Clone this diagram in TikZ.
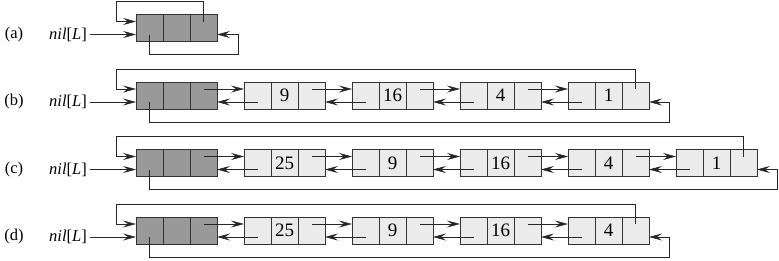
\documentclass[tikz,border=0pt]{standalone}
\usepackage{fontspec}
\setmainfont{Liberation Serif}
\usetikzlibrary{positioning,arrows.meta}

\begin{document}
\begin{tikzpicture}[
  x=1pt, y=-1pt,
  font=\fontsize{16.5}{19}\selectfont,
  cellbox/.style={draw=black!80, line width=0.6pt, minimum width=81pt, minimum height=27pt,
    inner sep=0pt, outer sep=0pt, font=\fontsize{19}{21}\selectfont,
    path picture={
      \draw[black!80, line width=0.6pt]
        ([xshift=-13.5pt]path picture bounding box.north) -- ([xshift=-13.5pt]path picture bounding box.south)
        ([xshift=13.5pt]path picture bounding box.north) -- ([xshift=13.5pt]path picture bounding box.south);}},
  sent/.style={cellbox, fill=black!40},
  elem/.style={cellbox, fill=black!8},
  arr/.style={-{Stealth[length=13pt, width=7pt, inset=5pt]}, line width=0.6pt, black!85},
  lbl/.style={anchor=center},
]
\useasboundingbox (0,0) rectangle (779,260);

% (a) empty list
\node[lbl] (la) at (14,34.5) {(a)};
\node[lbl] (nila) at (68,34.5) {\itshape nil\upshape[\itshape L\upshape]};
\node[sent] (a0) at (176.5,28) {};
\draw[arr] (nila.east) -- (a0.west |- nila.east);
\draw[arr] ([xshift=27pt,yshift=6.5pt]a0.center) |- ([xshift=-20pt,yshift=13pt]a0.north west)
  |- ([yshift=6.5pt]a0.west);
\draw[arr] ([xshift=-27pt,yshift=-6.5pt]a0.center) |- ([xshift=21pt,yshift=-13pt]a0.south east)
  |- ([yshift=-6.5pt]a0.east);

% (b) list 9, 16, 4, 1
\node[lbl] (lb) at (14,102) {(b)};
\node[lbl] (nilb) at (68,102) {\itshape nil\upshape[\itshape L\upshape]};
\node[sent] (b0) at (176.5,95.5) {};
\node[elem, right=27pt of b0] (b1) {9};
\node[elem, right=27pt of b1] (b2) {16};
\node[elem, right=27pt of b2] (b3) {4};
\node[elem, right=27pt of b3] (b4) {1};
\draw[arr] (nilb.east) -- (b0.west |- nilb.east);
\draw[arr] ([xshift=27pt,yshift=6.5pt]b0.center) -- ([yshift=6.5pt]b1.west);
\draw[arr] ([xshift=-27pt,yshift=-6.5pt]b1.center) -- ([yshift=-6.5pt]b0.east);
\draw[arr] ([xshift=27pt,yshift=6.5pt]b1.center) -- ([yshift=6.5pt]b2.west);
\draw[arr] ([xshift=-27pt,yshift=-6.5pt]b2.center) -- ([yshift=-6.5pt]b1.east);
\draw[arr] ([xshift=27pt,yshift=6.5pt]b2.center) -- ([yshift=6.5pt]b3.west);
\draw[arr] ([xshift=-27pt,yshift=-6.5pt]b3.center) -- ([yshift=-6.5pt]b2.east);
\draw[arr] ([xshift=27pt,yshift=6.5pt]b3.center) -- ([yshift=6.5pt]b4.west);
\draw[arr] ([xshift=-27pt,yshift=-6.5pt]b4.center) -- ([yshift=-6.5pt]b3.east);
\draw[arr] ([xshift=27pt,yshift=6.5pt]b4.center) |- ([xshift=-20pt,yshift=13pt]b0.north west)
  |- ([yshift=6.5pt]b0.west);
\draw[arr] ([xshift=-27pt,yshift=-6.5pt]b0.center) |- ([xshift=20pt,yshift=-13pt]b4.south east)
  |- ([yshift=-6.5pt]b4.east);

% (c) after inserting 25
\node[lbl] (lc) at (14,169.5) {(c)};
\node[lbl] (nilc) at (68,169.5) {\itshape nil\upshape[\itshape L\upshape]};
\node[sent] (c0) at (176.5,163) {};
\node[elem, right=27pt of c0] (c1) {25};
\node[elem, right=27pt of c1] (c2) {9};
\node[elem, right=27pt of c2] (c3) {16};
\node[elem, right=27pt of c3] (c4) {4};
\node[elem, right=27pt of c4] (c5) {1};
\draw[arr] (nilc.east) -- (c0.west |- nilc.east);
\draw[arr] ([xshift=27pt,yshift=6.5pt]c0.center) -- ([yshift=6.5pt]c1.west);
\draw[arr] ([xshift=-27pt,yshift=-6.5pt]c1.center) -- ([yshift=-6.5pt]c0.east);
\draw[arr] ([xshift=27pt,yshift=6.5pt]c1.center) -- ([yshift=6.5pt]c2.west);
\draw[arr] ([xshift=-27pt,yshift=-6.5pt]c2.center) -- ([yshift=-6.5pt]c1.east);
\draw[arr] ([xshift=27pt,yshift=6.5pt]c2.center) -- ([yshift=6.5pt]c3.west);
\draw[arr] ([xshift=-27pt,yshift=-6.5pt]c3.center) -- ([yshift=-6.5pt]c2.east);
\draw[arr] ([xshift=27pt,yshift=6.5pt]c3.center) -- ([yshift=6.5pt]c4.west);
\draw[arr] ([xshift=-27pt,yshift=-6.5pt]c4.center) -- ([yshift=-6.5pt]c3.east);
\draw[arr] ([xshift=27pt,yshift=6.5pt]c4.center) -- ([yshift=6.5pt]c5.west);
\draw[arr] ([xshift=-27pt,yshift=-6.5pt]c5.center) -- ([yshift=-6.5pt]c4.east);
\draw[arr] ([xshift=27pt,yshift=6.5pt]c5.center) |- ([xshift=-20pt,yshift=13pt]c0.north west)
  |- ([yshift=6.5pt]c0.west);
\draw[arr] ([xshift=-27pt,yshift=-6.5pt]c0.center) |- ([xshift=20pt,yshift=-13pt]c5.south east)
  |- ([yshift=-6.5pt]c5.east);

% (d) after deleting 1
\node[lbl] (ld) at (14,237) {(d)};
\node[lbl] (nild) at (68,237) {\itshape nil\upshape[\itshape L\upshape]};
\node[sent] (d0) at (176.5,230.5) {};
\node[elem, right=27pt of d0] (d1) {25};
\node[elem, right=27pt of d1] (d2) {9};
\node[elem, right=27pt of d2] (d3) {16};
\node[elem, right=27pt of d3] (d4) {4};
\draw[arr] (nild.east) -- (d0.west |- nild.east);
\draw[arr] ([xshift=27pt,yshift=6.5pt]d0.center) -- ([yshift=6.5pt]d1.west);
\draw[arr] ([xshift=-27pt,yshift=-6.5pt]d1.center) -- ([yshift=-6.5pt]d0.east);
\draw[arr] ([xshift=27pt,yshift=6.5pt]d1.center) -- ([yshift=6.5pt]d2.west);
\draw[arr] ([xshift=-27pt,yshift=-6.5pt]d2.center) -- ([yshift=-6.5pt]d1.east);
\draw[arr] ([xshift=27pt,yshift=6.5pt]d2.center) -- ([yshift=6.5pt]d3.west);
\draw[arr] ([xshift=-27pt,yshift=-6.5pt]d3.center) -- ([yshift=-6.5pt]d2.east);
\draw[arr] ([xshift=27pt,yshift=6.5pt]d3.center) -- ([yshift=6.5pt]d4.west);
\draw[arr] ([xshift=-27pt,yshift=-6.5pt]d4.center) -- ([yshift=-6.5pt]d3.east);
\draw[arr] ([xshift=27pt,yshift=6.5pt]d4.center) |- ([xshift=-20pt,yshift=13pt]d0.north west)
  |- ([yshift=6.5pt]d0.west);
\draw[arr] ([xshift=-27pt,yshift=-6.5pt]d0.center) |- ([xshift=20pt,yshift=-13pt]d4.south east)
  |- ([yshift=-6.5pt]d4.east);
\end{tikzpicture}
\end{document}
